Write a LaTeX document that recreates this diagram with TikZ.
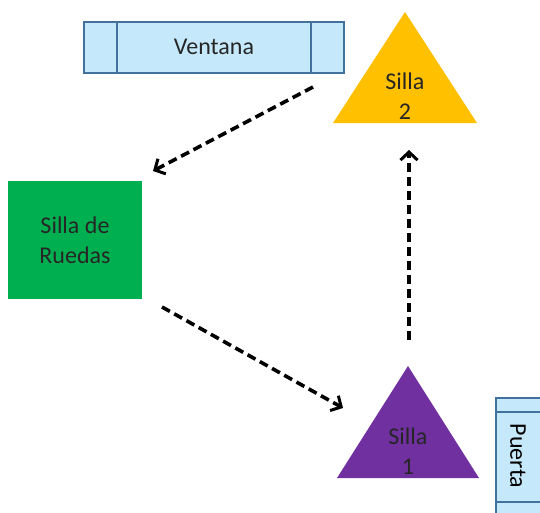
\documentclass[tikz,border=0pt]{standalone}
\usepackage{fontspec}
\setmainfont{Carlito}
\usetikzlibrary{arrows.meta}
\definecolor{winfill}{HTML}{C5E8FB}
\definecolor{winline}{HTML}{41719C}
\definecolor{chairyellow}{HTML}{FFC000}
\definecolor{chairpurple}{HTML}{7030A0}
\definecolor{chairgreen}{HTML}{00B050}
\definecolor{txtcol}{HTML}{262626}
\tikzset{
  lbl/.style={text=txtcol, font=\fontsize{24}{30}\selectfont, align=center, inner sep=0pt},
  winbox/.style={draw=winline, fill=winfill, line width=2pt, inner sep=0pt},
  move/.style={draw=black, line width=3.6pt, dash pattern=on 9pt off 5pt,
    -{Straight Barb[length=8pt,width=17pt,line width=3pt]}},
}
\begin{document}
\begin{tikzpicture}[x=1pt,y=-1pt]
\useasboundingbox (0,0) rectangle (540,512);
\clip (0,0) rectangle (540,512);
\fill[white] (0,0) rectangle (540,512);
% Ventana
\node[winbox, minimum width=260pt, minimum height=51pt] (ventana) at (214,47.5) {};
\draw[winline, line width=2pt] (117,22) -- (117,73) (311,22) -- (311,73);
\node[lbl] (ventanatxt) at (214,47) {Ventana};
% Puerta
\node[winbox, minimum width=56pt, minimum height=130pt] (puerta) at (524,463) {};
\draw[winline, line width=2pt] (496,412) -- (560,412) (496,502) -- (560,502);
\node[lbl, rotate=-90, text=black] (puertatxt) at (518,456) {Puerta};
% Silla 2
\fill[chairyellow] (405,12) -- (477,123) -- (333,123) -- cycle;
\node[lbl] (silla2) at (405,96) {Silla\\2};
% Silla 1
\fill[chairpurple] (408,366) -- (479,478) -- (337,478) -- cycle;
\node[lbl] (silla1) at (408,451) {Silla\\1};
% Silla de Ruedas
\node[fill=chairgreen, minimum width=134pt, minimum height=118pt, inner sep=0pt] (ruedas) at (75,240) {};
\node[lbl] (ruedastxt) at (75,240) {Silla de\\Ruedas};
% arrows
\coordinate (a1s) at (313,87);
\coordinate (a1e) at (153,171);
\coordinate (a2s) at (162,307);
\coordinate (a2e) at (343,408);
\coordinate (a3s) at (409,340);
\coordinate (a3e) at (409,150);
\draw[move] (a1s) -- (a1e);
\draw[move] (a2s) -- (a2e);
\draw[move] (a3s) -- (a3e);
\end{tikzpicture}
\end{document}
